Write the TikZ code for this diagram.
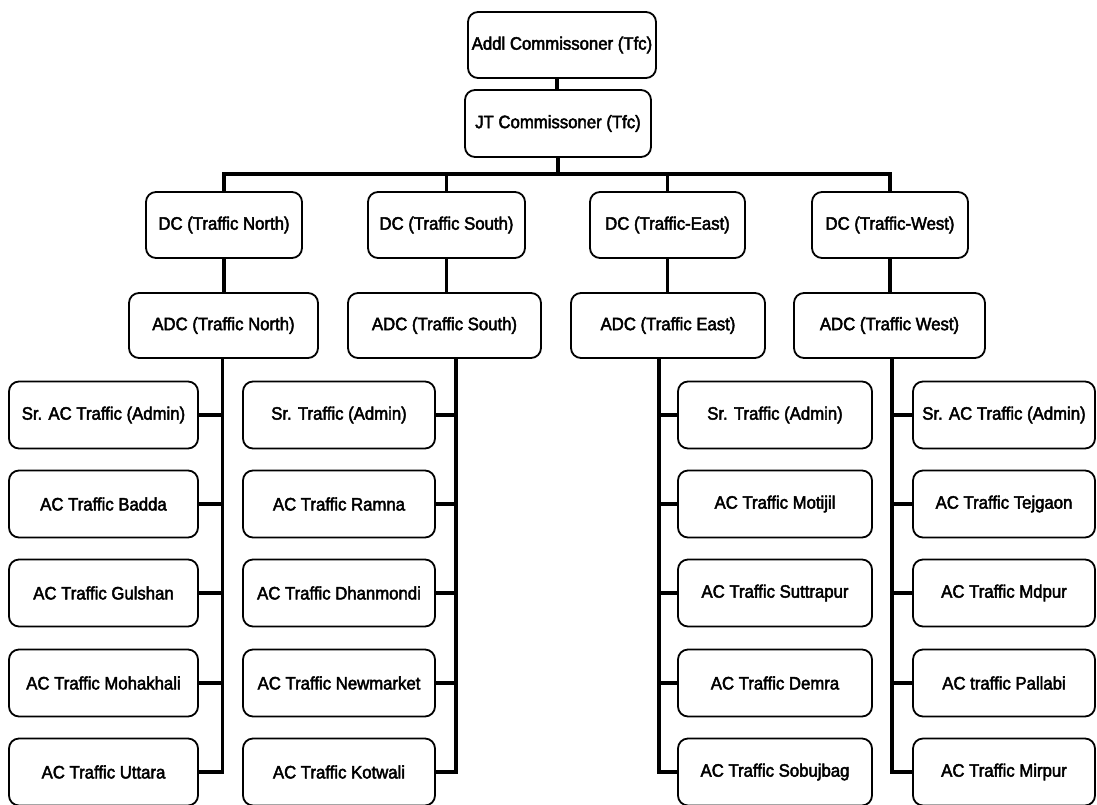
\documentclass[tikz,border=0pt]{standalone}
\usepackage{fontspec}
\setmainfont{Liberation Sans}[FakeStretch=0.93,FakeBold=2.5]
\begin{document}
\begin{tikzpicture}[x=1pt,y=-1pt,
  orgbox/.style={draw=black,line width=1.8pt,rounded corners=10pt,fill=white,
    inner sep=0pt,minimum height=66pt,font=\fontsize{18}{20}\selectfont,text=black},
  link/.style={draw=black,line width=3.6pt,line join=miter,line cap=rect}]
\useasboundingbox[fill=white] (0,0) rectangle (1097,804);

% top of the chain
\node[orgbox,minimum width=188pt] (addl) at (562,45) {Addl Commissoner (Tfc)};
\node[orgbox,minimum width=186pt,minimum height=67pt] (jt) at (558,123.5) {JT Commissoner (Tfc)};

% deputy commissioners
\node[orgbox,minimum width=156pt] (dcN) at (224,225) {DC (Traffic North)};
\node[orgbox,minimum width=157pt] (dcS) at (446.5,225) {DC (Traffic South)};
\node[orgbox,minimum width=155pt] (dcE) at (667.5,225) {DC (Traffic-East)};
\node[orgbox,minimum width=156pt] (dcW) at (890,225) {DC (Traffic-West)};

% additional deputy commissioners
\node[orgbox,minimum width=189pt,minimum height=65pt] (adcN) at (223.5,325.5) {ADC (Traffic North)};
\node[orgbox,minimum width=193pt,minimum height=65pt] (adcS) at (444.5,325.5) {ADC (Traffic South)};
\node[orgbox,minimum width=194pt,minimum height=65pt] (adcE) at (668,325.5) {ADC (Traffic East)};
\node[orgbox,minimum width=191pt,minimum height=65pt] (adcW) at (889.5,325.5) {ADC (Traffic West)};

% assistant commissioners, one column per zone
\foreach \i/\y/\t in {1/415/Sr. AC Traffic (Admin),2/504/AC Traffic Badda,3/593/AC Traffic Gulshan,4/683/AC Traffic Mohakhali,5/772/AC Traffic Uttara}
  \node[orgbox,minimum width=189pt,minimum height=67pt] (n\i) at (103.5,\y) {\t};
\foreach \i/\y/\t in {1/415/Sr. Traffic (Admin),2/504/AC Traffic Ramna,3/593/AC Traffic Dhanmondi,4/683/AC Traffic Newmarket,5/772/AC Traffic Kotwali}
  \node[orgbox,minimum width=192pt,minimum height=67pt] (s\i) at (339,\y) {\t};
\foreach \i/\y/\t in {1/415/Sr. Traffic (Admin),2/504/AC Traffic Motijil,3/593/AC Traffic Suttrapur,4/683/AC Traffic Demra,5/772/AC Traffic Sobujbag}
  \node[orgbox,minimum width=194pt,minimum height=67pt] (e\i) at (775,\y) {\t};
\foreach \i/\y/\t in {1/415/Sr. AC Traffic (Admin),2/504/AC Traffic Tejgaon,3/593/AC Traffic Mdpur,4/683/AC traffic Pallabi,5/772/AC Traffic Mirpur}
  \node[orgbox,minimum width=182pt,minimum height=67pt] (w\i) at (1004,\y) {\t};

% connectors
\coordinate (bar) at (0,174);
\coordinate (top) at ([xshift=-1pt]jt.north);
\draw[link] (top |- addl.south) -- (top);
\draw[link] (jt.south) -- (jt.south |- bar);
\draw[link] (dcN.north) -- (dcN.north |- bar) -- (dcW.north |- bar) -- (dcW.north);
\draw[link] (dcS.north) -- (dcS.north |- bar);
\draw[link] (dcE.north) -- (dcE.north |- bar);

\draw[link] (dcN.south) -- (adcN.north -| dcN.south);
\draw[link] (dcS.south) -- (adcS.north -| dcS.south);
\draw[link] (dcE.south) -- (adcE.north -| dcE.south);
\draw[link] (dcW.south) -- (adcW.north -| dcW.south);

\coordinate (nv) at ([xshift=-1pt]adcN.south);
\coordinate (sv) at ([xshift=11.5pt]adcS.south);
\coordinate (ev) at ([xshift=-9pt]adcE.south);
\coordinate (wv) at ([xshift=2.5pt]adcW.south);

\draw[link] (nv) |- (n5.east);
\draw[link] (sv) |- (s5.east);
\draw[link] (ev) |- (e5.west);
\draw[link] (wv) |- (w5.west);
\foreach \i in {1,...,4} {
  \draw[link] (n\i.east) -- (n\i.east -| nv);
  \draw[link] (s\i.east) -- (s\i.east -| sv);
  \draw[link] (e\i.west) -- (e\i.west -| ev);
  \draw[link] (w\i.west) -- (w\i.west -| wv);
}
\end{tikzpicture}
\end{document}
